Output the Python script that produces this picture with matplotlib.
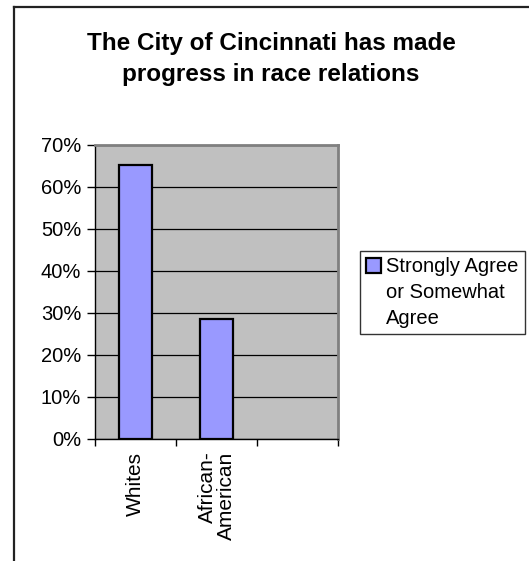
import matplotlib
matplotlib.use("Agg")
import matplotlib.pyplot as plt
import matplotlib.patches as mpatches
from matplotlib.container import BarContainer
from matplotlib.lines import Line2D
from matplotlib.legend_handler import HandlerPatch, update_from_first_child
from matplotlib.ticker import PercentFormatter, FixedLocator

plt.rcParams['font.family'] = ['Liberation Sans', 'DejaVu Sans']

categories = ["Whites", "African-\nAmerican", ""]
agree_share = [0.652, 0.286]
series_label = "Strongly Agree\nor Somewhat\nAgree"
title = "The City of Cincinnati has made\nprogress in race relations"

W, H = 529, 561
fig = plt.figure(figsize=(W / 100, H / 100), dpi=100)
fig.patch.set_facecolor("white")

# outer chart frame (left and top edges)
fig.add_artist(Line2D([13.5 / W, 13.5 / W], [0, 1 - 7 / H], color="#222222", lw=1.6,
                      transform=fig.transFigure))
fig.add_artist(Line2D([13.5 / W, 1], [1 - 7 / H, 1 - 7 / H], color="#222222", lw=1.6,
                      transform=fig.transFigure))

ax = fig.add_axes([95 / W, 1 - 439 / H, (338 - 95) / W, (439 - 145) / H])
ax.set_facecolor("#C0C0C0")

x = list(range(len(agree_share)))
bars = ax.bar(x, agree_share, width=0.4, color="#9999FF", edgecolor="black",
              linewidth=1.6, zorder=3, label=series_label)

ax.set_xlim(-0.5, len(categories) - 0.5)
ax.set_ylim(0, 0.7)
ax.yaxis.set_major_locator(FixedLocator([i / 10 for i in range(8)]))
ax.yaxis.set_major_formatter(PercentFormatter(1.0, decimals=0))
ax.grid(axis="y", color="black", lw=0.9, zorder=1)
ax.set_axisbelow(True)

ax.set_xticks(range(len(categories)))
ax.set_xticklabels(categories, rotation=90, va="top", ha="center", fontsize=15,
                   linespacing=1.0, multialignment="right")
ax.set_xticks([i - 0.5 for i in range(len(categories) + 1)], minor=True)
ax.tick_params(axis="x", which="major", length=0, pad=9)
ax.tick_params(axis="x", which="minor", length=5, width=1, direction="out", color="black")
ax.tick_params(axis="y", length=6, width=1, direction="out", labelsize=14.5, pad=4)

for s in ("left", "bottom"):
    ax.spines[s].set_color("black")
    ax.spines[s].set_linewidth(1.0)
for s in ("top", "right"):
    ax.spines[s].set_color("#808080")
    ax.spines[s].set_linewidth(2.0)

fig.text(271 / W, 1 - 32 / H, title, ha="center", va="top", fontsize=17.5,
         fontweight="bold", linespacing=1.42)

# legend key sits beside the first line of the wrapped label
LEG_FS = 14.5
LEG_LS = 1.45
line_em = 0.9 * LEG_LS


def top_line_key(legend, orig_handle, xdescent, ydescent, width, height, fontsize):
    side = 0.75 * fontsize
    y0 = (line_em + 0.38) * fontsize - side / 2
    return mpatches.Rectangle((-xdescent, y0), side, side)


leg = ax.legend(loc="upper left", bbox_to_anchor=(360 / W, 1 - 251 / H),
                bbox_transform=fig.transFigure, frameon=True, fancybox=False,
                edgecolor="black", fontsize=LEG_FS, handlelength=0.75, handleheight=0.75,
                handletextpad=0.25, borderpad=0.3, borderaxespad=0,
                handler_map={BarContainer: HandlerPatch(patch_func=top_line_key,
                                                        update_func=update_from_first_child)})
leg.get_frame().set_linewidth(1.0)
for t in leg.get_texts():
    t.set_linespacing(LEG_LS)

fig.savefig("out.png", dpi=100)
